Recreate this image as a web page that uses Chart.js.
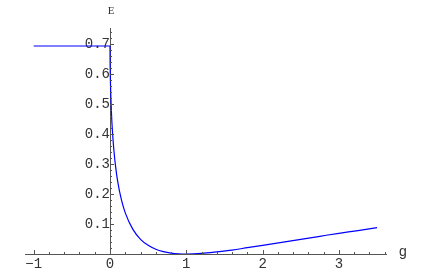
<!DOCTYPE html>
<html>
<head>
<meta charset="utf-8">
<script src="https://cdn.jsdelivr.net/npm/chart.js@4.4.1/dist/chart.umd.min.js"></script>
<style>
  html, body { margin: 0; padding: 0; background: #fff; }
  #wrap { width: 436px; height: 273px; }
</style>
</head>
<body>
<div id="wrap"><canvas id="plot" width="436" height="273"></canvas></div>
<script>
// values
const flatG = [-1, 0];
const flatE = [0.693, 0.693];

const curveG = [0, 0.001, 0.002, 0.005, 0.01, 0.02, 0.03, 0.05, 0.075, 0.1, 0.15, 0.2, 0.3, 0.4, 0.5, 0.6, 0.7, 0.8, 0.9, 1, 1.2, 1.4, 1.6, 1.8, 2, 2.25, 2.5, 2.75, 3, 3.25, 3.5];
const curveE = [0.693, 0.647, 0.625, 0.58, 0.531, 0.464, 0.417, 0.348, 0.288, 0.243, 0.18, 0.137, 0.082, 0.049, 0.029, 0.016, 0.008, 0.003, 0.0006, 0, 0.002, 0.007, 0.013, 0.021, 0.029, 0.039, 0.049, 0.059, 0.069, 0.078, 0.088];

const xTickValues = [-1, 0, 1, 2, 3];
const yTickValues = [0.1, 0.2, 0.3, 0.4, 0.5, 0.6, 0.7];

const axisColor = '#555';
const labelColor = '#333';

const toPoints = (xs, ys) => xs.map((x, i) => ({ x: x, y: ys[i] }));

// little inward ticks + axis names, like the original plot
const mathTicks = {
  id: 'mathTicks',
  afterDraw(chart) {
    const ctx = chart.ctx;
    const xs = chart.scales.x, ys = chart.scales.y;
    const x0 = xs.getPixelForValue(0), y0 = ys.getPixelForValue(0);
    ctx.save();
    ctx.strokeStyle = axisColor;
    ctx.lineWidth = 1;
    ctx.beginPath();
    for (let i = -5; i <= 18; i++) {
      const v = i * 0.2;
      if (v < xs.min || v > xs.max) continue;
      const px = Math.round(xs.getPixelForValue(v)) + 0.5;
      const len = (i % 5 === 0) ? 4 : 2;
      ctx.moveTo(px, y0);
      ctx.lineTo(px, y0 - len);
    }
    for (let i = 1; i <= 37; i++) {
      const v = i * 0.02;
      if (v > ys.max) continue;
      const py = Math.round(ys.getPixelForValue(v)) + 0.5;
      const len = (i % 5 === 0) ? 4 : 2;
      ctx.moveTo(x0, py);
      ctx.lineTo(x0 + len, py);
    }
    ctx.stroke();

    ctx.fillStyle = labelColor;
    ctx.font = '11px "Liberation Serif"';
    ctx.textAlign = 'center';
    ctx.textBaseline = 'alphabetic';
    ctx.fillText('E', x0 + 1, 14);
    ctx.font = '14px "Liberation Sans"';
    ctx.textAlign = 'left';
    ctx.fillText('g', xs.right + 13, y0 + 2);
    ctx.restore();
  }
};

new Chart(document.getElementById('plot'), {
  type: 'scatter',
  data: {
    datasets: [
      {
        data: toPoints(flatG, flatE),
        showLine: true,
        borderColor: '#0000ff',
        borderWidth: 1.2,
        pointRadius: 0,
        tension: 0
      },
      {
        data: toPoints(curveG, curveE),
        showLine: true,
        borderColor: '#0000ff',
        borderWidth: 1.2,
        pointRadius: 0,
        cubicInterpolationMode: 'monotone'
      }
    ]
  },
  options: {
    responsive: false,
    animation: false,
    layout: { padding: { left: 25, right: 50, top: 28, bottom: 19 } },
    plugins: { legend: { display: false }, tooltip: { enabled: false } },
    scales: {
      x: {
        type: 'linear',
        position: { y: 0 },
        min: -1.114,
        max: 3.617,
        afterBuildTicks: (scale) => { scale.ticks = xTickValues.map(v => ({ value: v })); },
        grid: { display: true, drawOnChartArea: false, drawTicks: false },
        border: { display: true, color: axisColor, width: 1 },
        ticks: {
          color: labelColor,
          padding: 2,
          maxRotation: 0,
          font: { family: '"Liberation Mono"', size: 14 },
          callback: (v) => (v < 0 ? '\u2212' + Math.abs(v) : String(v))
        }
      },
      y: {
        type: 'linear',
        position: { x: 0 },
        min: 0,
        max: 0.753,
        afterBuildTicks: (scale) => { scale.ticks = yTickValues.map(v => ({ value: v })); },
        grid: { display: true, drawOnChartArea: false, drawTicks: false },
        border: { display: true, color: axisColor, width: 1 },
        ticks: {
          color: labelColor,
          padding: 2,
          font: { family: '"Liberation Mono"', size: 14 },
          callback: (v) => v.toFixed(1)
        }
      }
    }
  },
  plugins: [mathTicks]
});
</script>
</body>
</html>
